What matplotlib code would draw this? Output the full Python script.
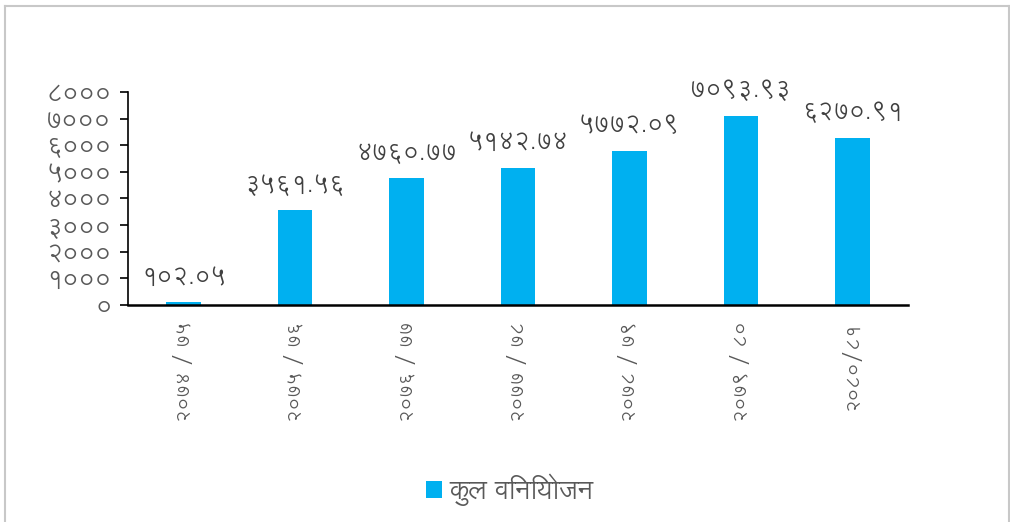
import matplotlib
matplotlib.use("Agg")
import matplotlib.pyplot as plt
from matplotlib.lines import Line2D

plt.rcParams['font.family'] = ['Lohit Devanagari', 'Mukta', 'DejaVu Sans']

years = ["२०७४ / ७५", "२०७५ / ७६", "२०७६ / ७७", "२०७७ / ७८", "२०७८ / ७९", "२०७९ / ८०", "२०८०/८१"]
values = [102.05, 3561.56, 4760.77, 5142.74, 5772.09, 7093.93, 6270.91]
value_labels = ["१०२.०५", "३५६१.५६", "४७६०.७७", "५१४२.७४", "५७७२.०९", "७०९३.९३", "६२७०.९१"]
yticks = [0, 1000, 2000, 3000, 4000, 5000, 6000, 7000, 8000]
ytick_labels = ["०", "१०००", "२०००", "३०००", "४०००", "५०००", "६०००", "७०००", "८०००"]
legend_label = "कुल विनियोजन"

blue = "#00b0f0"
grey = "#595959"

fig = plt.figure(figsize=(10.1, 5.22), dpi=100)
ax = fig.add_axes([0.1267, 0.4157, 0.7723, 0.4081])

x = range(len(years))
ax.bar(x, values, width=0.31, color=blue, label=legend_label)
for i, v in enumerate(values):
    ax.text(i, v + 480, value_labels[i], ha='center', va='bottom', fontsize=17.5, color="#404040")

ax.set_xlim(-0.5, len(years) - 0.5)
ax.set_ylim(0, 8000)
ax.set_yticks(yticks)
ax.set_yticklabels(ytick_labels, fontsize=18, color=grey)
ax.set_xticks(list(x))
ax.set_xticklabels(years, rotation=90, fontsize=14, color=grey)
ax.tick_params(axis='x', length=0, pad=12)
ax.tick_params(axis='y', length=6, width=1.2, pad=6)
for s in ['top', 'right']:
    ax.spines[s].set_visible(False)
ax.spines['left'].set_linewidth(1.2)
ax.spines['bottom'].set_linewidth(1.8)

fig.legend(loc='center', bbox_to_anchor=(0.505, 0.062), frameon=False, fontsize=19,
           handlelength=0.6, handleheight=0.6, handletextpad=0.3, labelcolor=grey)

# outer frame
fig.add_artist(Line2D([0.005, 0.005], [0, 0.988], color="#c8c8c8", lw=1.5, transform=fig.transFigure))
fig.add_artist(Line2D([0.005, 0.999], [0.988, 0.988], color="#c8c8c8", lw=1.5, transform=fig.transFigure))
fig.add_artist(Line2D([0.999, 0.999], [0, 0.988], color="#c8c8c8", lw=1.5, transform=fig.transFigure))

fig.savefig("out.png")
